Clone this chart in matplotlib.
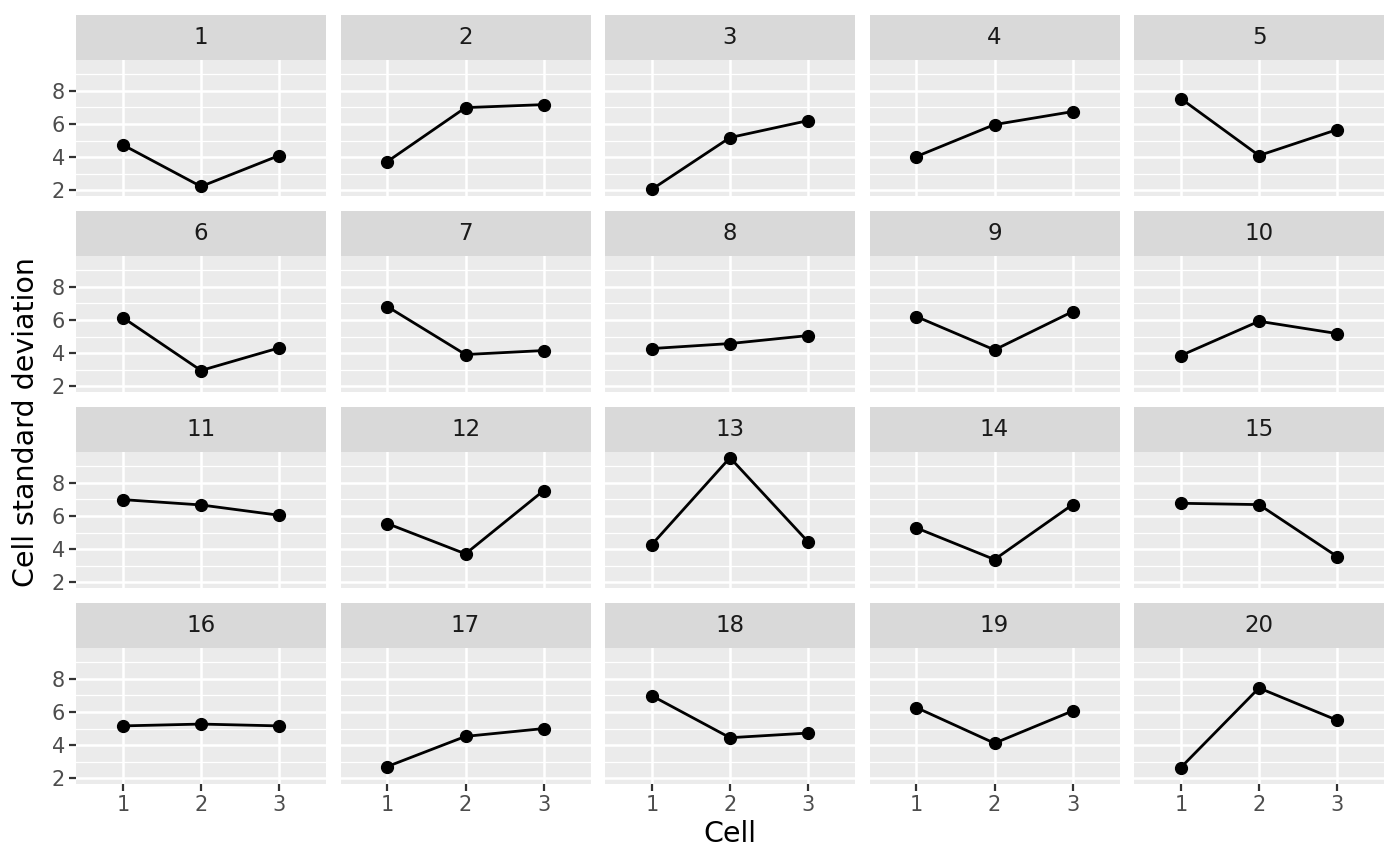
import numpy as np
import matplotlib
matplotlib.use("Agg")
import matplotlib.pyplot as plt

# data (one facet per sample, three cells each)
cells = [1, 2, 3]
facets = list(range(1, 21))
sd_values = [
    [4.74, 2.24, 4.10],
    [3.74, 6.98, 7.16],
    [2.07, 5.18, 6.20],
    [4.04, 5.96, 6.74],
    [7.52, 4.10, 5.66],
    [6.14, 2.96, 4.32],
    [6.80, 3.92, 4.16],
    [4.28, 4.58, 5.06],
    [6.20, 4.20, 6.50],
    [3.86, 5.92, 5.18],
    [6.98, 6.66, 6.04],
    [5.54, 3.72, 7.52],
    [4.28, 9.50, 4.44],
    [5.28, 3.38, 6.68],
    [6.76, 6.68, 3.56],
    [5.16, 5.27, 5.16],
    [2.72, 4.53, 5.00],
    [6.97, 4.45, 4.73],
    [6.26, 4.12, 6.06],
    [2.66, 7.44, 5.50],
]
y_breaks = [2, 4, 6, 8]
y_minor = [3, 5, 7, 9]

W, H = 1400, 866
fig = plt.figure(figsize=(W / 100, H / 100), dpi=100)
fig.patch.set_facecolor("white")

# layout in pixels (top-left origin)
col_left = [76 + i * 264.5 for i in range(5)]
panel_w = 250
row_top = [14.5 + i * 196 for i in range(4)]
strip_h = 45
panel_h = 136

allv = np.array(sd_values)
lo, hi = allv.min(), allv.max()
pad = (hi - lo) * 0.05
ylim = (lo - pad, hi + pad)


def px_axes(x, y, w, h):
    return fig.add_axes([x / W, 1 - (y + h) / H, w / W, h / H])


for k, vals in enumerate(sd_values):
    r, c = divmod(k, 5)
    x0 = col_left[c]
    y0 = row_top[r]

    # strip
    sax = px_axes(x0, y0, panel_w, strip_h)
    sax.set_facecolor("#D9D9D9")
    sax.set_xticks([])
    sax.set_yticks([])
    for s in sax.spines.values():
        s.set_visible(False)
    sax.text(0.5, 0.5, str(facets[k]), ha="center", va="center",
             fontsize=16.5, color="#1A1A1A", transform=sax.transAxes)

    # panel
    ax = px_axes(x0, y0 + strip_h, panel_w, panel_h)
    ax.set_facecolor("#EBEBEB")
    for s in ax.spines.values():
        s.set_visible(False)
    ax.set_xlim(0.4, 3.6)
    ax.set_ylim(*ylim)
    for yv in y_minor:
        ax.axhline(yv, color="white", lw=0.9, zorder=0)
    for yv in y_breaks:
        ax.axhline(yv, color="white", lw=1.8, zorder=0)
    for xv in cells:
        ax.axvline(xv, color="white", lw=1.8, zorder=0)

    ax.plot(cells, vals, color="black", lw=2.0, zorder=2)
    ax.plot(cells, vals, "o", color="black", ms=8.5, zorder=3)

    ax.set_xticks(cells)
    ax.set_yticks(y_breaks)
    ax.tick_params(length=5, width=1.6, color="#333333", labelcolor="#4D4D4D",
                   labelsize=15, pad=3)
    if c != 0:
        ax.tick_params(axis="y", left=False, labelleft=False)
    if r != 3:
        ax.tick_params(axis="x", bottom=False, labelbottom=False)

fig.text(730 / W, 1 - 834 / H, "Cell", ha="center", va="center",
         fontsize=20.5, color="black")
fig.text(26 / W, 1 - 422 / H, "Cell standard deviation", ha="center",
         va="center", rotation=90, fontsize=20.5, color="black")

fig.savefig("out.png", dpi=100, facecolor="white")
